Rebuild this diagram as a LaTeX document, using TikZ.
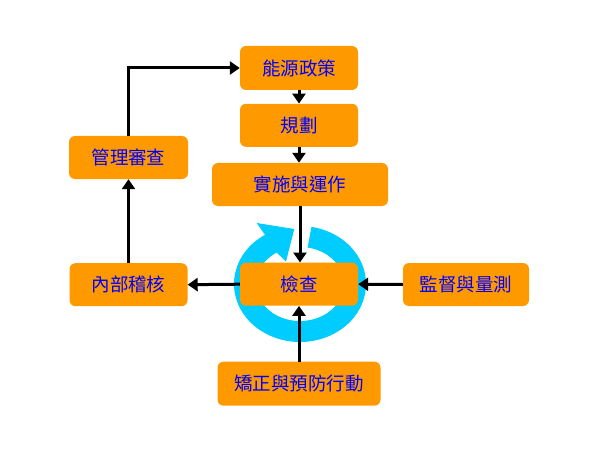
\documentclass[tikz,border=0pt]{standalone}
\usepackage{fontspec}
\newfontfamily\cjk{Noto Sans CJK TC}
\usetikzlibrary{arrows.meta}
\definecolor{boxorange}{RGB}{255,153,0}
\definecolor{ringcyan}{RGB}{0,204,255}
\definecolor{txtblue}{RGB}{0,0,255}
\tikzset{
  stepbox/.style={fill=boxorange, rounded corners=6pt, inner sep=0pt,
    minimum height=43pt, text=txtblue,
    font=\cjk\fontsize{18.5}{20}\selectfont},
  flow/.style={line width=3pt, draw=black,
    -{Triangle[width=13pt,length=10pt]}},
}
\begin{document}
\begin{tikzpicture}[x=1pt,y=-1pt]
\useasboundingbox (0,0) rectangle (598,452);
\fill[white] (0,0) rectangle (598,452);
% cycle arrow ring
\fill[ringcyan]
  plot[domain=-80:238,samples=90] ({300+66*cos(\x)},{284+58*sin(\x)})
  -- (256.7,223) -- (294.3,229) -- (286,261.5)
  -- plot[domain=238:-80,samples=90] ({300+44*cos(\x)},{284+37*sin(\x)})
  -- cycle;
% nodes
\node[stepbox, minimum width=118pt, minimum height=44pt] (policy) at (299,68) {能源政策};
\node[stepbox, minimum width=118pt] (plan) at (299,125.3) {規劃};
\node[stepbox, minimum width=176pt] (impl) at (300,184.5) {實施與運作};
\node[stepbox, minimum width=118pt] (check) at (299,284.2) {檢查};
\node[stepbox, minimum width=126pt] (monitor) at (466,284.5) {監督與量測};
\node[stepbox, minimum width=163pt, minimum height=44pt] (correct) at (299,383.7) {矯正與預防行動};
\node[stepbox, minimum width=118pt] (audit) at (128.5,284.7) {內部稽核};
\node[stepbox, minimum width=119pt] (review) at (128.5,157.5) {管理審查};
% connectors
\draw[flow] (review.north) |- (policy.west);
\draw[flow] (policy.south) -- (plan.north);
\draw[flow] (plan.south) -- (plan.south |- impl.north);
\draw[flow] (impl.south) -- (impl.south |- check.north);
\draw[flow] (monitor.west) -- (check.east);
\draw[flow] (correct.north) -- (correct.north |- check.south);
\draw[flow] (check.west) -- (audit.east);
\draw[flow] (audit.north) -- (review.south);
\end{tikzpicture}
\end{document}
